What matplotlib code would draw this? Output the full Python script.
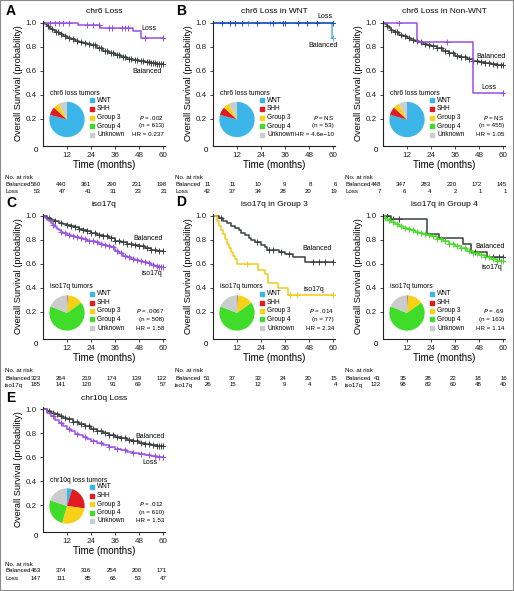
import numpy as np
import matplotlib
matplotlib.use('Agg')
import matplotlib.pyplot as plt
from matplotlib.patches import Rectangle

plt.rcParams['font.family'] = ['Liberation Sans', 'DejaVu Sans']

W, H = 514, 591

# colours
GRAY = '#3c4040'
PURPLE = '#9a4fe3'
BLUE_D = '#1f4db8'
BLUE_L = '#5ab2e6'
YELLOW = '#f0cc1c'
GREEN = '#46dc25'
sub_names = ['WNT', 'SHH', 'Group 3', 'Group 4', 'Unknown']
sub_cols = ['#3cb6e9', '#e11b22', '#f7d117', '#40dc2a', '#c9cdcd']

times = [0, 12, 24, 36, 48, 60]

# ---- A: chr6 loss
A_bal_t = [0, 1, 2, 3, 4, 5, 6, 8, 10, 12, 14, 16, 18, 20, 22, 24, 27, 30, 33, 36, 39, 42, 45, 48, 51, 54, 57]
A_bal_s = [1.0, .985, .97, .955, .945, .935, .925, .905, .89, .875, .86, .85, .84, .83, .82, .81, .79, .765, .745, .73, .715, .70, .69, .68, .67, .665, .655]
A_bal_c = [2.5, 4.5, 6.5, 7.5, 9, 11, 13, 15, 17, 19, 21, 23, 25, 26, 28, 29, 31, 32, 34, 35, 37, 38, 40, 41, 43, 44,
           46, 47, 49, 50, 52, 53, 54, 55, 56, 57, 58, 59, 60]
A_los_t = [0, 17.5, 28.5, 45, 49]
A_los_s = [1.0, .98, .955, .93, .875]
A_los_c = [3.5, 6, 8, 10, 13, 22, 25, 28, 33, 34.5, 39.5, 41, 42.5, 51, 60]
A_pie = [42, 4, 3, 0, 4]
A_risk = [[560, 440, 361, 290, 231, 198], [53, 47, 41, 31, 23, 21]]

# ---- B left: chr6 loss in WNT
BW_bal_t = [0, 59.5]
BW_bal_s = [1.0, .875]
BW_bal_c = [17.5, 28.5, 60]
BW_los_t = [0]
BW_los_s = [1.0]
BW_los_c = [4.3, 8.5, 11, 14.3, 21.8, 30.2, 35.2, 36, 42.7, 46.8, 51.8, 60]
BW_risk = [[11, 11, 10, 9, 8, 6], [42, 37, 34, 28, 20, 19]]

# ---- B right: chr6 loss in Non-WNT
BN_bal_t = [0, 1, 2, 3, 4, 5, 6, 8, 10, 12, 14, 16, 18, 20, 22, 24, 27, 30, 33, 36, 39, 42, 45, 48, 51, 54, 57]
BN_bal_s = [1.0, .985, .97, .955, .94, .93, .92, .90, .885, .87, .855, .845, .835, .825, .815, .805, .785, .765, .745, .725, .71, .695, .68, .67, .66, .655, .645]
BN_bal_c = [2, 4, 6, 7, 9, 11, 13, 15, 17, 19, 21, 23, 25, 27, 29, 31, 33, 35, 37, 39, 41, 43, 45, 47, 49, 51, 53,
            55, 57, 59, 60]
BN_los_t = [0, 17, 45]
BN_los_s = [1.0, .835, .41]
BN_los_c = [8, 32, 60]
BN_risk = [[448, 347, 283, 220, 172, 145], [7, 6, 4, 2, 1, 1]]

# ---- C: iso17q
C_bal_t = [0, 2, 4, 6, 8, 10, 12, 14, 16, 18, 20, 22, 24, 27, 30, 33, 36, 39, 42, 45, 48, 51, 54, 57]
C_bal_s = [1.0, .985, .97, .955, .945, .935, .925, .915, .905, .895, .885, .875, .86, .845, .83, .815, .795, .78, .77, .76, .75, .735, .72, .71]
C_bal_c = [3, 6, 9, 12, 14, 16, 18, 20, 22, 24, 26, 28, 30, 32, 34, 36, 38, 40, 42, 44, 46, 48, 50, 52, 54, 56, 58, 60]
C_iso_t = [0, 1, 2, 3, 4, 5, 6, 7, 8, 9, 10, 12, 14, 16, 18, 20, 22, 24, 26, 28, 30, 32, 34, 36, 38, 40, 42, 44, 46,
           48, 50, 52, 54, 56, 58]
C_iso_s = [1.0, .985, .97, .955, .94, .925, .91, .895, .88, .87, .86, .845, .835, .825, .815, .805, .795, .79, .78,
           .77, .76, .75, .745, .71, .69, .67, .655, .645, .635, .625, .615, .605, .595, .585, .575]
C_iso_c = [5, 9, 11, 13, 15, 17, 19, 21, 23, 25, 27, 29, 31, 33, 35, 37, 39, 41, 43, 45, 47, 49, 51, 53, 55, 57, 58,
           59, 60]
C_pie = [1, 1, 26, 122, 35]
C_risk = [[323, 264, 219, 174, 139, 122], [185, 141, 120, 91, 69, 57]]

# ---- D left: iso17q in Group 3
D3_bal_t = [0, 3, 5, 7, 9, 11, 13, 14, 16, 18, 19, 21, 24, 26, 27, 33, 36, 40, 46]
D3_bal_s = [1.0, .98, .96, .94, .92, .90, .88, .86, .84, .82, .80, .78, .76, .74, .72, .70, .68, .66, .62]
D3_bal_c = [4, 22, 28, 30, 34, 38, 50, 53, 56, 60]
D3_iso_t = [0, 2, 3, 4, 5, 6, 7, 8, 9, 10, 11, 12, 22.5, 26, 27.5, 32.5, 37.5]
D3_iso_s = [1.0, .96, .92, .88, .85, .81, .77, .73, .70, .67, .64, .60, .55, .52, .44, .40, .34]
D3_iso_c = [17, 38.5, 42, 60]
D3_risk = [[51, 37, 32, 24, 20, 15], [26, 15, 12, 9, 4, 4]]

# ---- D right: iso17q in Group 4
D4_bal_t = [0, 4, 22, 28, 40, 44, 52]
D4_bal_s = [1.0, .975, .85, .82, .77, .70, .66]
D4_bal_c = [2, 5, 8, 46, 55, 58, 60]
D4_iso_t = [0, 1, 2, 4, 6, 8, 10, 12, 14, 16, 18, 20, 22, 24, 27, 30, 33, 36, 39, 42, 45, 48, 51, 54, 57]
D4_iso_s = [1.0, .98, .97, .95, .93, .92, .90, .89, .88, .87, .86, .85, .84, .83, .81, .79, .77, .75, .73, .71, .69, .675, .66, .64, .625]
D4_iso_c = [1, 3, 5, 7, 9, 11, 13, 15, 17, 19, 21, 23, 25, 27, 29, 31, 33, 35, 37, 39, 41, 43, 45, 47, 49, 51, 53,
            55, 57, 59, 60]
D4_risk = [[41, 35, 28, 22, 18, 16], [122, 98, 83, 60, 48, 40]]

# ---- E: chr10q loss
E_bal_t = [0, 2, 4, 6, 8, 10, 12, 15, 18, 21, 24, 27, 30, 33, 36, 39, 42, 45, 48, 51, 54, 57]
E_bal_s = [1.0, .985, .97, .955, .94, .925, .915, .895, .875, .855, .835, .815, .80, .785, .77, .755, .74, .73, .72, .71, .70, .695]
E_bal_c = [3, 5, 7, 9, 11, 13, 15, 17, 19, 21, 23, 25, 27, 29, 31, 33, 35, 37, 39, 41, 43, 45, 47, 49, 51, 53, 55,
           57, 58, 59, 60]
E_los_t = [0, 2, 4, 6, 8, 10, 12, 14, 16, 18, 20, 22, 24, 27, 30, 33, 36, 39, 42, 45, 48, 51, 54, 57]
E_los_s = [1.0, .97, .94, .91, .88, .855, .835, .815, .795, .78, .765, .75, .735, .715, .70, .685, .67, .655, .645, .635, .625, .615, .61, .60]
E_los_c = [5, 9, 13, 17, 21, 25, 29, 33, 37, 41, 45, 49, 53, 56, 58, 60]
E_pie = [7, 33, 40, 38, 29]
E_risk = [[463, 374, 316, 254, 200, 171], [147, 111, 85, 66, 53, 47]]

fig = plt.figure(figsize=(W / 100, H / 100), dpi=100)
fig.patches.append(Rectangle((0, 0), 1, 1, transform=fig.transFigure, fill=False,
                             edgecolor='#8a8a8a', lw=1.5))


def fx(px):
    return px / W


def fy(py):
    return 1 - py / H


def km(ax, t, s, color, cens):
    tt = list(t) + [60]
    ss = list(s) + [s[-1]]
    ax.step(tt, ss, where='post', color=color, lw=1.1)
    cy = [s[np.searchsorted(t, c, side='right') - 1] for c in cens]
    ax.plot(cens, cy, '+', color=color, ms=4, mew=0.7, ls='none')


def panel(spine, top, title, rowname, risk, pie=None, pietitle='', stats=None):
    ax = fig.add_axes([fx(spine), fy(top - 1.8 + 124.8), fx(122), 124.8 / H])
    ax.set_xlim(0, 61)
    ax.set_ylim(-0.025, 1.015)
    for sp in ['top', 'right']:
        ax.spines[sp].set_visible(False)
    ax.spines['left'].set_color('#222')
    ax.spines['bottom'].set_color('#222')
    ax.set_xticks(times[1:])
    ax.set_yticks([0.2, 0.4, 0.6, 0.8, 1.0])
    ax.set_yticklabels(['0.2', '0.4', '0.6', '0.8', '1.0'])
    ax.tick_params(labelsize=5.8, length=2.5, width=0.6, pad=2, colors='#222')
    ax.set_ylabel('Overall Survival (probability)', fontsize=6.6)
    ax.yaxis.set_label_coords(-20 / 122, 0.5)
    fig.text(fx(spine - 7), fy(top + 128), '0', fontsize=5.8, ha='center', va='center')
    fig.text(fx(spine + 61), fy(top + 142), 'Time (months)', fontsize=7, ha='center', va='center')
    fig.text(fx(spine + 61), fy(top - 11), title, fontsize=6, ha='center', va='center')
    # number at risk table
    fig.text(fx(spine - 38), fy(top + 155), 'No. at risk', fontsize=4.4, va='center')
    for k, lab in enumerate(['Balanced', rowname]):
        yy = fy(top + 162 + 7 * k)
        fig.text(fx(spine - 38), yy, lab, fontsize=4.4, va='center')
        for tm, n in zip(times, risk[k]):
            fig.text(fx(spine + 2 * (tm * 1.05 - 1)), yy, str(n), fontsize=4.4, ha='right', va='center')
    # subgroup pie
    if pie is not None:
        pa = fig.add_axes([fx(spine + 24 - 18), fy(top + 97 + 18), fx(36), 36 / H])
        pa.pie(pie, colors=sub_cols, startangle=90, counterclock=False, radius=1.0,
               wedgeprops=dict(linewidth=0))
        pa.set_xlim(-1.02, 1.02)
        pa.set_ylim(-1.02, 1.02)
        pa.set_aspect('equal')
        fig.text(fx(spine + 7), fy(top + 71), pietitle, fontsize=4.9, va='center')
        for k, (nm, cl) in enumerate(zip(sub_names, sub_cols)):
            yk = top + 78 + 8.5 * k
            fig.patches.append(Rectangle((fx(spine + 47), fy(yk + 2)), fx(4), 4 / H,
                                         transform=fig.transFigure, color=cl))
            fig.text(fx(spine + 54), fy(yk), nm, fontsize=4.7, va='center')
    for k, st in enumerate(stats):
        fig.text(fx(spine + 121), fy(top + 95 + 8.5 * k), st, fontsize=4.5, ha='right', va='center')
    return ax


def letter(px, py, s):
    fig.text(fx(px), fy(py), s, fontsize=10, fontweight='bold', va='center')


# A
ax = panel(43, 22.5, 'chr6 Loss', 'Loss', A_risk, A_pie, 'chr6 loss tumors',
           ['$P$ = .002', '(n = 613)', 'HR = 0.237'])
km(ax, A_bal_t, A_bal_s, GRAY, A_bal_c)
km(ax, A_los_t, A_los_s, PURPLE, A_los_c)
ax.text(57, 0.95, 'Loss', fontsize=5, ha='right', va='center')
ax.text(59.5, 0.59, 'Balanced', fontsize=5, ha='right', va='center')

# B left
ax = panel(213, 22.5, 'chr6 Loss in WNT', 'Loss', BW_risk, A_pie, 'chr6 loss tumors',
           ['$P$ = NS', '(n = 53)', 'HR = 4.6e\u221210'])
km(ax, BW_bal_t, BW_bal_s, BLUE_L, BW_bal_c)
km(ax, BW_los_t, BW_los_s, BLUE_D, BW_los_c)
ax.text(60, 1.05, 'Loss', fontsize=5, ha='right', va='center')
ax.text(62.5, 0.81, 'Balanced', fontsize=5, ha='right', va='center')

# B right
ax = panel(383, 22.5, 'chr6 Loss in Non-WNT', 'Loss', BN_risk, A_pie, 'chr6 loss tumors',
           ['$P$ = NS', '(n = 455)', 'HR = 1.05'])
km(ax, BN_bal_t, BN_bal_s, GRAY, BN_bal_c)
km(ax, BN_los_t, BN_los_s, PURPLE, BN_los_c)
ax.text(61.5, 0.72, 'Balanced', fontsize=5, ha='right', va='center')
ax.text(56.5, 0.455, 'Loss', fontsize=5, ha='right', va='center')

# C
ax = panel(43, 216, 'iso17q', 'iso17q', C_risk, C_pie, 'iso17q tumors',
           ['$P$ = .0067', '(n = 508)', 'HR = 1.58'])
km(ax, C_bal_t, C_bal_s, GRAY, C_bal_c)
km(ax, C_iso_t, C_iso_s, PURPLE, C_iso_c)
ax.text(60, 0.81, 'Balanced', fontsize=5, ha='right', va='center')
ax.text(59.5, 0.52, 'iso17q', fontsize=5, ha='right', va='center')

# D left
ax = panel(213, 216, 'iso17q in Group 3', 'iso17q', D3_risk, C_pie, 'iso17q tumors',
           ['$P$ = .014', '(n = 77)', 'HR = 2.34'])
km(ax, D3_bal_t, D3_bal_s, GRAY, D3_bal_c)
km(ax, D3_iso_t, D3_iso_s, YELLOW, D3_iso_c)
ax.text(59.5, 0.73, 'Balanced', fontsize=5, ha='right', va='center')
ax.text(55.5, 0.39, 'iso17q', fontsize=5, ha='right', va='center')

# D right
ax = panel(383, 216, 'iso17q in Group 4', 'iso17q', D4_risk, C_pie, 'iso17q tumors',
           ['$P$ = .69', '(n = 163)', 'HR = 1.14'])
km(ax, D4_bal_t, D4_bal_s, GRAY, D4_bal_c)
km(ax, D4_iso_t, D4_iso_s, GREEN, D4_iso_c)
ax.text(61, 0.75, 'Balanced', fontsize=5, ha='right', va='center')
ax.text(59.5, 0.57, 'iso17q', fontsize=5, ha='right', va='center')

# E
ax = panel(43, 409, 'chr10q Loss', 'Loss', E_risk, E_pie, 'chr10q loss tumors',
           ['$P$ = .012', '(n = 610)', 'HR = 1.53'])
km(ax, E_bal_t, E_bal_s, GRAY, E_bal_c)
km(ax, E_los_t, E_los_s, PURPLE, E_los_c)
ax.text(61, 0.775, 'Balanced', fontsize=5, ha='right', va='center')
ax.text(57.5, 0.55, 'Loss', fontsize=5, ha='right', va='center')

letter(6, 11, 'A')
letter(176, 11, 'B')
letter(6, 203, 'C')
letter(176, 202, 'D')
letter(6, 398, 'E')

fig.savefig('out.png', dpi=100)
